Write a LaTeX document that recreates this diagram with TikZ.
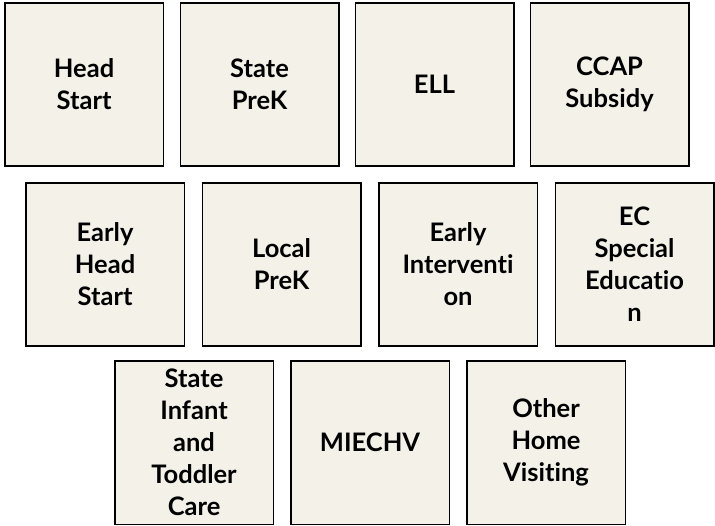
\documentclass[tikz,border=0pt]{standalone}
\usepackage{fontspec}
\setmainfont{Lato}[Ligatures={NoCommon}]
\definecolor{boxfill}{HTML}{F4F1E9}
\begin{document}
\begin{tikzpicture}[x=1pt,y=-1pt,
  prog/.style={draw=black, line width=1.6pt, fill=boxfill, minimum width=158.5pt, minimum height=163.5pt, inner sep=0pt, align=center, text width=150pt, font=\fontsize{25.5}{32}\selectfont\bfseries, anchor=north west}]
\useasboundingbox (0,0) rectangle (715,526);
% row 1
\node[prog] (hs) at (4,2) {Head\\Start};
\node[prog] (spk) at (179.5,2) {State\\PreK};
\node[prog] (ell) at (354.5,2) {ELL};
\node[prog] (ccap) at (529.5,2) {CCAP\\Subsidy};
% row 2
\node[prog] (ehs) at (25,182) {Early\\Head\\Start};
\node[prog] (lpk) at (201.5,182) {Local\\PreK};
\node[prog] (ei) at (378,182) {Early\\Interventi\\on};
\node[prog] (ecse) at (554.5,182) {EC\\Special\\Educatio\\n};
% row 3
\node[prog] (sitc) at (114,360) {State\\Infant\\and\\Toddler\\Care};
\node[prog] (miechv) at (290,360) {MIECHV};
\node[prog] (ohv) at (466,360) {Other\\Home\\Visiting};
\end{tikzpicture}
\end{document}
